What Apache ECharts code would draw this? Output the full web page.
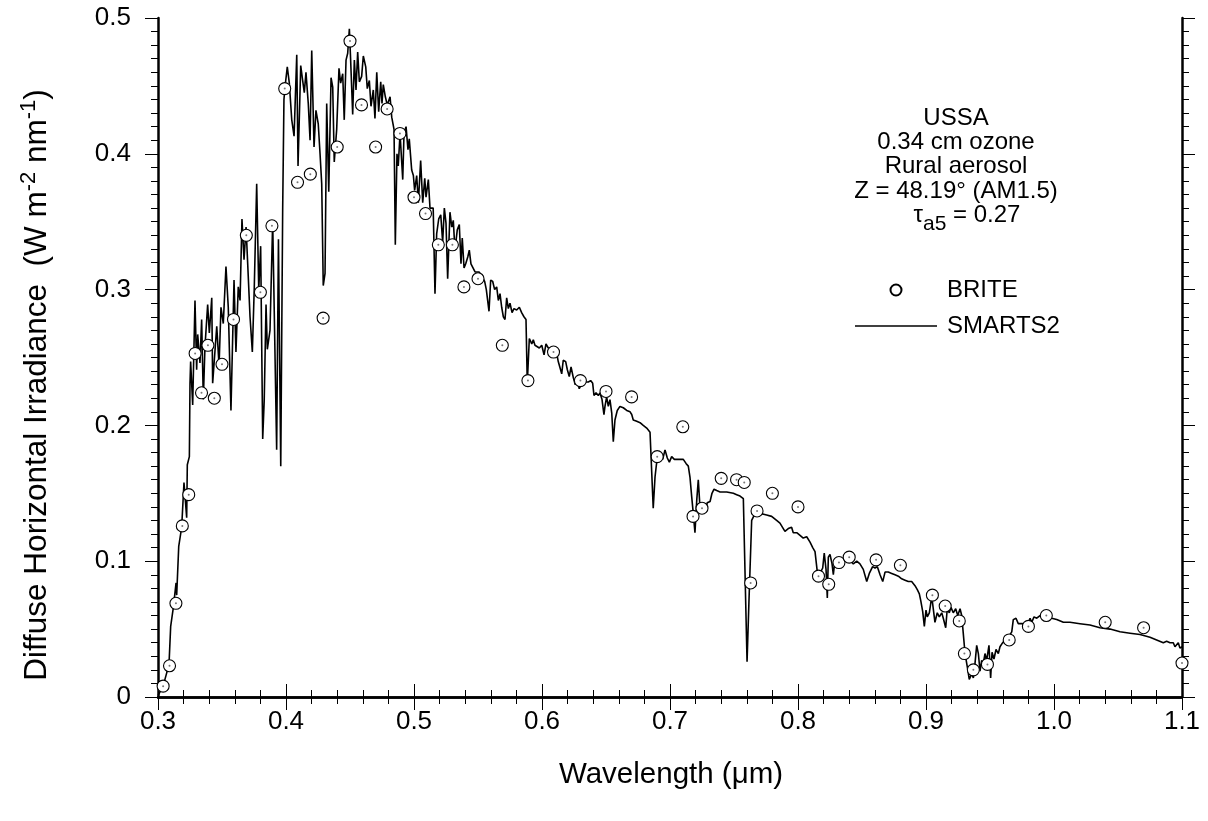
<!DOCTYPE html>
<html>
<head>
<meta charset="utf-8">
<script src="https://cdn.jsdelivr.net/npm/echarts@6.0.0/dist/echarts.min.js"></script>
<style>
  html, body { margin: 0; padding: 0; background: #ffffff; }
  #chart { width: 1208px; height: 821px; }
</style>
</head>
<body>
<div id="chart"></div>
<script>
// Axis ranges and tick steps
const xRange = [0.3, 1.1];
const xStep = 0.1;
const yRange = [0, 0.5];
const yStep = 0.1;

// BRITE measured diffuse irradiance (wavelength in µm, W m-2 nm-1)
const briteWl = [0.304, 0.309, 0.314, 0.319, 0.324, 0.329, 0.334, 0.339, 0.344, 0.350,
  0.359, 0.369, 0.380, 0.389, 0.399, 0.409, 0.419, 0.429, 0.440, 0.450,
  0.459, 0.470, 0.479, 0.489, 0.500, 0.509, 0.519, 0.530, 0.539, 0.550,
  0.569, 0.589, 0.609, 0.630, 0.650, 0.670, 0.690, 0.710, 0.718, 0.725,
  0.740, 0.752, 0.758, 0.763, 0.768, 0.780, 0.800, 0.816, 0.824, 0.832,
  0.840, 0.861, 0.880, 0.905, 0.915, 0.926, 0.930, 0.937, 0.948, 0.965,
  0.980, 0.994, 1.040, 1.070, 1.100];
const briteIrr = [0.008, 0.023, 0.069, 0.126, 0.149, 0.253, 0.224, 0.259, 0.220, 0.245,
  0.278, 0.340, 0.298, 0.347, 0.448, 0.379, 0.385, 0.279, 0.405, 0.483,
  0.436, 0.405, 0.433, 0.415, 0.368, 0.356, 0.333, 0.333, 0.302, 0.308,
  0.259, 0.233, 0.254, 0.233, 0.225, 0.221, 0.177, 0.199, 0.133, 0.139,
  0.161, 0.160, 0.158, 0.084, 0.137, 0.150, 0.140, 0.089, 0.083, 0.099,
  0.103, 0.101, 0.097, 0.075, 0.067, 0.056, 0.032, 0.020, 0.024, 0.042,
  0.052, 0.060, 0.055, 0.051, 0.025];

// SMARTS2 modelled diffuse spectrum
const smartsWl = [0.3000, 0.3040, 0.3086, 0.3099, 0.3120, 0.3141, 0.3146, 0.3162, 0.3172, 0.3185,
  0.3203, 0.3224, 0.3229, 0.3245, 0.3250, 0.3255, 0.3271, 0.3289, 0.3302, 0.3310,
  0.3328, 0.3341, 0.3354, 0.3367, 0.3388, 0.3401, 0.3420, 0.3427, 0.3459, 0.3477,
  0.3492, 0.3510, 0.3531, 0.3549, 0.3570, 0.3594, 0.3609, 0.3627, 0.3641, 0.3656,
  0.3672, 0.3688, 0.3705, 0.3719, 0.3737, 0.3752, 0.3771, 0.3787, 0.3802, 0.3818,
  0.3830, 0.3844, 0.3854, 0.3875, 0.3896, 0.3909, 0.3927, 0.3941, 0.3959, 0.3974,
  0.3984, 0.3992, 0.4010, 0.4026, 0.4045, 0.4063, 0.4084, 0.4094, 0.4115, 0.4130,
  0.4143, 0.4156, 0.4174, 0.4188, 0.4201, 0.4219, 0.4234, 0.4252, 0.4266, 0.4279,
  0.4291, 0.4305, 0.4318, 0.4334, 0.4352, 0.4365, 0.4377, 0.4396, 0.4414, 0.4427,
  0.4443, 0.4455, 0.4469, 0.4482, 0.4495, 0.4505, 0.4521, 0.4534, 0.4547, 0.4560,
  0.4573, 0.4591, 0.4604, 0.4623, 0.4635, 0.4651, 0.4664, 0.4682, 0.4695, 0.4709,
  0.4724, 0.4740, 0.4750, 0.4760, 0.4776, 0.4791, 0.4813, 0.4826, 0.4844, 0.4854,
  0.4867, 0.4877, 0.4891, 0.4912, 0.4922, 0.4938, 0.4953, 0.4963, 0.4982, 0.4995,
  0.5005, 0.5021, 0.5034, 0.5052, 0.5068, 0.5084, 0.5094, 0.5112, 0.5125, 0.5150,
  0.5164, 0.5177, 0.5193, 0.5209, 0.5224, 0.5237, 0.5250, 0.5263, 0.5281, 0.5295,
  0.5307, 0.5320, 0.5338, 0.5354, 0.5367, 0.5377, 0.5391, 0.5404, 0.5420, 0.5432,
  0.5445, 0.5459, 0.5477, 0.5490, 0.5508, 0.5523, 0.5537, 0.5552, 0.5565, 0.5576,
  0.5586, 0.5599, 0.5615, 0.5630, 0.5646, 0.5659, 0.5672, 0.5685, 0.5698, 0.5711,
  0.5724, 0.5737, 0.5750, 0.5766, 0.5781, 0.5802, 0.5823, 0.5841, 0.5859, 0.5875,
  0.5885, 0.5901, 0.5920, 0.5932, 0.5945, 0.5959, 0.5979, 0.5998, 0.6016, 0.6031,
  0.6049, 0.6068, 0.6084, 0.6102, 0.6115, 0.6127, 0.6141, 0.6154, 0.6166, 0.6185,
  0.6198, 0.6213, 0.6227, 0.6245, 0.6260, 0.6276, 0.6291, 0.6310, 0.6323, 0.6344,
  0.6362, 0.6380, 0.6396, 0.6406, 0.6422, 0.6440, 0.6453, 0.6469, 0.6484, 0.6492,
  0.6505, 0.6518, 0.6531, 0.6545, 0.6557, 0.6570, 0.6588, 0.6609, 0.6635, 0.6662,
  0.6688, 0.6701, 0.6713, 0.6740, 0.6766, 0.6791, 0.6818, 0.6844, 0.6857, 0.6869,
  0.6883, 0.6901, 0.6922, 0.6943, 0.6961, 0.6979, 0.6995, 0.7013, 0.7034, 0.7052,
  0.7078, 0.7104, 0.7125, 0.7143, 0.7156, 0.7170, 0.7182, 0.7195, 0.7209, 0.7221,
  0.7234, 0.7248, 0.7260, 0.7281, 0.7291, 0.7313, 0.7328, 0.7344, 0.7365, 0.7391,
  0.7443, 0.7495, 0.7521, 0.7547, 0.7573, 0.7586, 0.7602, 0.7617, 0.7638, 0.7664,
  0.7690, 0.7716, 0.7755, 0.7794, 0.7833, 0.7859, 0.7885, 0.7898, 0.7924, 0.7950,
  0.7963, 0.7990, 0.8016, 0.8041, 0.8068, 0.8094, 0.8115, 0.8133, 0.8151, 0.8172,
  0.8193, 0.8205, 0.8219, 0.8229, 0.8237, 0.8250, 0.8266, 0.8276, 0.8289, 0.8307,
  0.8328, 0.8354, 0.8380, 0.8406, 0.8432, 0.8459, 0.8484, 0.8510, 0.8537, 0.8557,
  0.8583, 0.8602, 0.8620, 0.8641, 0.8662, 0.8680, 0.8705, 0.8732, 0.8758, 0.8784,
  0.8810, 0.8836, 0.8862, 0.8888, 0.8914, 0.8932, 0.8948, 0.8959, 0.8974, 0.8987,
  0.9000, 0.9010, 0.9026, 0.9045, 0.9057, 0.9070, 0.9088, 0.9104, 0.9123, 0.9135,
  0.9154, 0.9166, 0.9182, 0.9195, 0.9213, 0.9232, 0.9248, 0.9266, 0.9279, 0.9291,
  0.9305, 0.9323, 0.9338, 0.9357, 0.9370, 0.9383, 0.9396, 0.9409, 0.9422, 0.9435,
  0.9448, 0.9461, 0.9474, 0.9492, 0.9505, 0.9516, 0.9531, 0.9547, 0.9565, 0.9578,
  0.9599, 0.9617, 0.9643, 0.9670, 0.9682, 0.9703, 0.9721, 0.9734, 0.9755, 0.9773,
  0.9791, 0.9813, 0.9826, 0.9844, 0.9865, 0.9891, 0.9943, 0.9982, 1.0021, 1.0073,
  1.0125, 1.0203, 1.0281, 1.0359, 1.0438, 1.0516, 1.0594, 1.0672, 1.0750, 1.0802,
  1.0854, 1.0880, 1.0906, 1.0932, 1.0945, 1.0971, 1.0984, 1.1000];
const smartsIrr = [0.001, 0.008, 0.024, 0.052, 0.066, 0.084, 0.075, 0.111, 0.110, 0.125,
  0.158, 0.132, 0.171, 0.177, 0.231, 0.247, 0.215, 0.292, 0.241, 0.267,
  0.246, 0.278, 0.219, 0.258, 0.289, 0.268, 0.294, 0.231, 0.273, 0.244,
  0.287, 0.275, 0.317, 0.287, 0.211, 0.307, 0.254, 0.302, 0.292, 0.352,
  0.322, 0.346, 0.310, 0.280, 0.254, 0.301, 0.378, 0.300, 0.332, 0.190,
  0.219, 0.289, 0.256, 0.270, 0.350, 0.351, 0.182, 0.337, 0.170, 0.359,
  0.440, 0.449, 0.464, 0.452, 0.425, 0.413, 0.473, 0.391, 0.465, 0.454,
  0.445, 0.460, 0.437, 0.410, 0.476, 0.405, 0.432, 0.422, 0.400, 0.378,
  0.303, 0.312, 0.437, 0.372, 0.456, 0.449, 0.394, 0.418, 0.463, 0.452,
  0.459, 0.425, 0.469, 0.474, 0.492, 0.469, 0.429, 0.469, 0.447, 0.475,
  0.453, 0.457, 0.472, 0.464, 0.448, 0.454, 0.435, 0.447, 0.426, 0.460,
  0.431, 0.453, 0.437, 0.451, 0.442, 0.436, 0.442, 0.427, 0.418, 0.333,
  0.400, 0.391, 0.415, 0.381, 0.415, 0.420, 0.403, 0.411, 0.388, 0.384,
  0.373, 0.384, 0.364, 0.395, 0.364, 0.382, 0.368, 0.381, 0.360, 0.360,
  0.297, 0.341, 0.352, 0.355, 0.335, 0.360, 0.349, 0.308, 0.357, 0.346,
  0.351, 0.329, 0.344, 0.348, 0.319, 0.338, 0.316, 0.319, 0.324, 0.329,
  0.319, 0.318, 0.313, 0.312, 0.313, 0.311, 0.312, 0.306, 0.300, 0.300,
  0.284, 0.307, 0.306, 0.300, 0.302, 0.292, 0.297, 0.287, 0.280, 0.278,
  0.294, 0.286, 0.290, 0.283, 0.286, 0.285, 0.287, 0.283, 0.280, 0.278,
  0.231, 0.264, 0.260, 0.263, 0.259, 0.260, 0.257, 0.259, 0.252, 0.260,
  0.257, 0.257, 0.253, 0.251, 0.253, 0.247, 0.246, 0.238, 0.248, 0.247,
  0.241, 0.236, 0.243, 0.235, 0.230, 0.233, 0.227, 0.231, 0.232, 0.232,
  0.232, 0.233, 0.231, 0.222, 0.224, 0.222, 0.224, 0.219, 0.208, 0.214,
  0.221, 0.214, 0.219, 0.209, 0.188, 0.204, 0.211, 0.214, 0.213, 0.211,
  0.210, 0.208, 0.204, 0.203, 0.202, 0.200, 0.198, 0.195, 0.194, 0.139,
  0.162, 0.177, 0.177, 0.175, 0.182, 0.176, 0.173, 0.177, 0.175, 0.175,
  0.175, 0.175, 0.172, 0.170, 0.162, 0.147, 0.135, 0.121, 0.145, 0.160,
  0.140, 0.138, 0.135, 0.139, 0.143, 0.144, 0.150, 0.153, 0.152, 0.151,
  0.151, 0.150, 0.149, 0.148, 0.146, 0.145, 0.026, 0.071, 0.130, 0.135,
  0.136, 0.135, 0.134, 0.133, 0.130, 0.128, 0.124, 0.122, 0.124, 0.125,
  0.121, 0.121, 0.119, 0.117, 0.118, 0.114, 0.110, 0.107, 0.092, 0.091,
  0.095, 0.106, 0.094, 0.073, 0.103, 0.105, 0.098, 0.090, 0.101, 0.096,
  0.098, 0.100, 0.101, 0.101, 0.098, 0.100, 0.098, 0.094, 0.085, 0.091,
  0.096, 0.095, 0.096, 0.090, 0.085, 0.092, 0.092, 0.091, 0.090, 0.089,
  0.087, 0.086, 0.085, 0.085, 0.082, 0.079, 0.076, 0.071, 0.063, 0.052,
  0.064, 0.059, 0.062, 0.074, 0.075, 0.055, 0.062, 0.059, 0.062, 0.058,
  0.051, 0.065, 0.062, 0.066, 0.062, 0.065, 0.060, 0.065, 0.060, 0.047,
  0.032, 0.022, 0.013, 0.017, 0.014, 0.025, 0.038, 0.032, 0.019, 0.027,
  0.025, 0.032, 0.027, 0.038, 0.014, 0.033, 0.028, 0.035, 0.032, 0.037,
  0.040, 0.042, 0.044, 0.048, 0.057, 0.058, 0.054, 0.055, 0.054, 0.051,
  0.052, 0.058, 0.055, 0.059, 0.058, 0.060, 0.060, 0.058, 0.057, 0.055,
  0.055, 0.054, 0.053, 0.051, 0.050, 0.048, 0.047, 0.046, 0.044, 0.042,
  0.040, 0.041, 0.040, 0.040, 0.037, 0.040, 0.036, 0.037];

// Annotation block describing the model inputs
const infoLines = ['USSA', '0.34 cm ozone', 'Rural aerosol', 'Z = 48.19° (AM1.5)'];
const tauText = { symbol: 'τ', sub: 'a5', rest: ' = 0.27' };

const FONT = '"Liberation Sans", Arial, Helvetica, sans-serif';
const INK = '#000000';

const smartsData = smartsWl.map((w, i) => [w, smartsIrr[i]]);
const briteData = briteWl.map((w, i) => [w, briteIrr[i]]);

const chart = echarts.init(document.getElementById('chart'), null, { renderer: 'canvas' });

const tickCommon = {
  axisLine: { show: true, lineStyle: { color: INK, width: 2.5 } },
  axisTick: { show: true, length: 13, lineStyle: { color: INK, width: 1 } },
  splitLine: { show: false }
};

const infoGraphics = infoLines.map((t, i) => ({
  type: 'text',
  x: 956,
  y: 118 + i * 24.3,
  style: {
    text: t,
    fill: INK,
    fontFamily: FONT,
    fontSize: 24,
    align: 'center',
    verticalAlign: 'middle'
  }
}));

const option = {
  animation: false,
  backgroundColor: '#ffffff',
  grid: { left: 158, right: 26, top: 18, bottom: 124, containLabel: false, outerBoundsMode: 'none' },
  xAxis: [
    Object.assign({
      type: 'value', position: 'bottom', min: xRange[0], max: xRange[1], interval: xStep,
      minorTick: { show: true, splitNumber: 5, length: 7, lineStyle: { color: INK, width: 1 } },
      axisLabel: {
        show: true, margin: 12, color: INK, fontFamily: FONT, fontSize: 26,
        formatter: v => v.toFixed(1)
      }
    }, tickCommon),
    Object.assign({
      type: 'value', position: 'top', min: xRange[0], max: xRange[1], interval: xStep,
      minorTick: { show: true, splitNumber: 5, length: 7, lineStyle: { color: INK, width: 1 } },
      axisLabel: { show: false }
    }, tickCommon)
  ],
  yAxis: [
    Object.assign({
      type: 'value', position: 'left', min: yRange[0], max: yRange[1], interval: yStep,
      minorTick: { show: true, splitNumber: 10, length: 7, lineStyle: { color: INK, width: 1 } },
      axisLabel: {
        show: true, margin: 27, color: INK, fontFamily: FONT, fontSize: 26,
        formatter: v => (v === 0 ? '0' : v.toFixed(1))
      }
    }, tickCommon),
    Object.assign({
      type: 'value', position: 'right', min: yRange[0], max: yRange[1], interval: yStep,
      minorTick: { show: true, splitNumber: 10, length: 7, lineStyle: { color: INK, width: 1 } },
      axisLabel: { show: false }
    }, tickCommon)
  ],
  legend: {
    orient: 'vertical',
    left: 855,
    top: 278,
    padding: 0,
    itemWidth: 82,
    itemHeight: 11,
    itemGap: 12,
    selectedMode: false,
    data: [
      { name: 'BRITE' },
      { name: 'SMARTS2', icon: 'path://M0,0H82V1.6H0Z', itemStyle: { color: INK, borderWidth: 0 } }
    ],
    textStyle: { color: INK, fontFamily: FONT, fontSize: 24, padding: [0, 0, 0, 5] }
  },
  graphic: infoGraphics.concat([
    {
      type: 'text',
      x: 967,
      y: 215,
      style: {
        text: '{t|' + tauText.symbol + '}{s|' + tauText.sub + '}{t|' + tauText.rest + '}',
        align: 'center',
        verticalAlign: 'middle',
        fill: INK,
        rich: {
          t: { fontFamily: FONT, fontSize: 24, verticalAlign: 'middle', fill: INK },
          s: { fontFamily: FONT, fontSize: 21, padding: [18, 0, 0, 0], verticalAlign: 'middle', fill: INK }
        }
      }
    },
    {
      type: 'text',
      x: 671,
      y: 775,
      style: {
        text: 'Wavelength (μm)',
        fill: INK,
        fontFamily: FONT,
        fontSize: 29.5,
        align: 'center',
        verticalAlign: 'middle'
      }
    },
    {
      type: 'text',
      x: 37,
      y: 385,
      rotation: Math.PI / 2,
      style: {
        text: '{m|Diffuse Horizontal Irradiance  (W m}{s|-2}{m| nm}{s|-1}{m|)}',
        align: 'center',
        verticalAlign: 'middle',
        fill: INK,
        rich: {
          m: { fontFamily: FONT, fontSize: 31.5, lineHeight: 38, verticalAlign: 'middle', fill: INK },
          s: { fontFamily: FONT, fontSize: 22, lineHeight: 10, verticalAlign: 'top', fill: INK }
        }
      }
    }
  ]),
  series: [
    {
      name: 'SMARTS2',
      type: 'line',
      data: smartsData,
      symbol: 'none',
      showSymbol: false,
      lineStyle: { color: INK, width: 1.6 },
      itemStyle: { color: INK },
      z: 2
    },
    {
      name: 'BRITE',
      type: 'scatter',
      data: briteData,
      symbol: 'circle',
      symbolSize: 12,
      clip: false,
      itemStyle: { color: '#ffffff', borderColor: INK, borderWidth: 1.1, opacity: 1 },
      z: 3
    },
    {
      name: 'BRITE',
      type: 'scatter',
      data: briteData,
      symbol: 'circle',
      symbolSize: 2,
      clip: false,
      silent: true,
      itemStyle: { color: '#555555' },
      z: 4
    }
  ]
};

chart.setOption(option);
</script>
</body>
</html>
